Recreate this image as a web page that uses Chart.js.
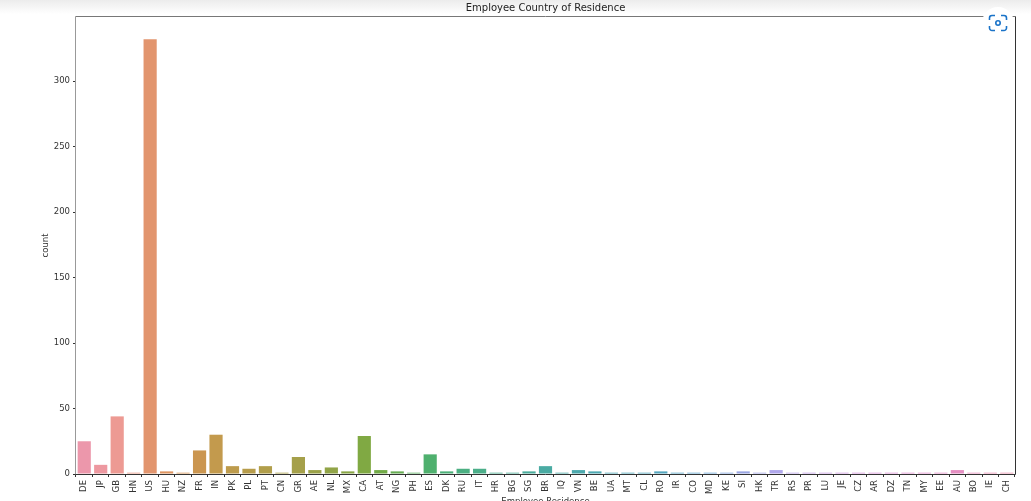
<!DOCTYPE html>
<html>
<head>
<meta charset="utf-8">
<title>Employee Country of Residence</title>
<script src="https://cdn.jsdelivr.net/npm/chart.js@4"></script>
<style>
    html, body { margin: 0; padding: 0; width: 1031px; height: 501px; overflow: hidden; background: #fff; }
    #shade { position: absolute; left: 0; top: 0; width: 1031px; height: 14px; background: linear-gradient(#ececec, #ffffff); }
    #chartBox { position: absolute; left: 0; top: 0; width: 1031px; height: 507px; }
    #residenceChart { filter: blur(0.35px); }
    #lens { position: absolute; left: 982px; top: 7px; width: 32px; height: 32px; border-radius: 50%; background: #fff; }
</style>
</head>
<body>
<div id="shade"></div>
<div id="chartBox"><canvas id="residenceChart" width="1031" height="507"></canvas></div>
<svg id="lens" viewBox="0 0 32 32" fill="none" stroke="#1a73c8" stroke-width="1.6">
    <path d="M13 8.5h-3a2.5 2.5 0 0 0-2.500 2.500v2M19 8.500h3a2.500 2.500 0 0 1 2.500 2.500v2M13 23.500h-3a2.500 2.500 0 0 1-2.500-2.500v-2M19 23.500h3a2.500 2.500 0 0 0 2.500-2.500v-2"/>
    <circle cx="16" cy="16" r="2.200"/>
</svg>
<script>
// ----------------------
//  DATA
// ----------------------
const countries = ['DE', 'JP', 'GB', 'HN', 'US', 'HU', 'NZ', 'FR', 'IN', 'PK', 'PL', 'PT', 'CN', 'GR', 'AE', 'NL', 'MX', 'CA', 'AT',
    'NG', 'PH', 'ES', 'DK', 'RU', 'IT', 'HR', 'BG', 'SG', 'BR', 'IQ', 'VN', 'BE', 'UA', 'MT', 'CL', 'RO', 'IR', 'CO',
    'MD', 'KE', 'SI', 'HK', 'TR', 'RS', 'PR', 'LU', 'JE', 'CZ', 'AR', 'DZ', 'TN', 'MY', 'EE', 'AU', 'BO', 'IE', 'CH'];
const counts = [25, 7, 44, 1, 332, 2, 1, 18, 30, 6, 4, 6, 1, 13, 3, 5, 2, 29, 3,
    2, 1, 15, 2, 4, 4, 1, 1, 2, 6, 1, 3, 2, 1, 1, 1, 2, 1, 1,
    1, 1, 2, 1, 3, 1, 1, 1, 1, 1, 1, 1, 1, 1, 1, 3, 1, 1, 1];
const barColors = ['#EC97AB', '#ED98A0', '#ED9A93', '#E89884', '#E2956E', '#DF9560', '#D69658', '#CB9650', '#C39A4D', '#BD9B4C',
    '#B79C4B', '#B19E4B', '#ABA04A', '#A5A04A', '#9BA248', '#91A447', '#89A645', '#80A943', '#72AB47', '#67AD53',
    '#5BAF60', '#4FB06E', '#4CB078', '#4BAF82', '#4BAE89', '#4BAE90', '#4BAD96', '#4AAC9C', '#4AABA3', '#4BAAA8',
    '#4CA9AD', '#4EA9B2', '#4FA8B6', '#51A8BA', '#53A7BC', '#55A6BE', '#5AA6C6', '#62A6CF', '#6DA6D7', '#80A5DE',
    '#99A5E2', '#A5A6E6', '#B0A7EB', '#BBA5EA', '#C4A2E8', '#CB9FE5', '#D19CE2', '#D699DE', '#DB97DA', '#DE95D6',
    '#E193D2', '#E391CE', '#E490C9', '#E58FC2', '#E88FBC', '#EA93B6', '#EB95B0'];
const yMax = 349;
const yTicks = [0, 50, 100, 150, 200, 250, 300];

// ----------------------
//  CHART
// ----------------------
Chart.defaults.font.family = "'DejaVu Sans'";
Chart.defaults.color = '#333333';

// the frame round the plot, top and left are greyer in the reference
const framePlugin = {
    id: 'frame',
    afterDraw(chart) {
        const { ctx, chartArea: a } = chart;
        const side = (color, x1, y1, x2, y2) => {
            ctx.strokeStyle = color;
            ctx.beginPath();
            ctx.moveTo(x1, y1);
            ctx.lineTo(x2, y2);
            ctx.stroke();
        };
        ctx.save();
        ctx.lineWidth = 1;
        side('#777777', a.left - 0.5, a.top - 0.5, a.right + 0.5, a.top - 0.5);
        side('#999999', a.left - 0.5, a.top - 0.5, a.left - 0.5, a.bottom + 0.5);
        side('#333333', a.right + 0.5, a.top - 0.5, a.right + 0.5, a.bottom + 0.5);
        side('#333333', a.left - 0.5, a.bottom + 0.5, a.right + 0.5, a.bottom + 0.5);
        ctx.restore();
    }
};

new Chart(document.getElementById('residenceChart').getContext('2d'), {
    type: 'bar',
    data: {
        labels: countries,
        datasets: [{
            label: 'count',
            data: counts,
            backgroundColor: barColors,
            barPercentage: 0.8,
            categoryPercentage: 1,
        }]
    },
    options: {
        responsive: false,
        animation: false,
        layout: { padding: { right: 16, top: 0, bottom: 0, left: 0 } },
        plugins: {
            legend: { display: false },
            tooltip: { enabled: false },
            title: {
                display: true,
                text: 'Employee Country of Residence',
                fullSize: false,
                color: '#222222',
                font: { size: 10, weight: 'normal' },
                padding: { top: 2, bottom: 3 },
            },
        },
        scales: {
            x: {
                afterFit(scale) { scale.height = 33; },
                grid: { display: true, drawOnChartArea: false, color: '#333333', tickLength: 3 },
                border: { display: false },
                ticks: {
                    autoSkip: false,
                    maxRotation: 90,
                    minRotation: 90,
                    padding: 3,
                    font: { size: 8.500 },
                },
                title: {
                    display: true,
                    text: 'Employee Residence',
                    font: { size: 8.500 },
                    padding: { top: 0, bottom: 0 },
                },
            },
            y: {
                min: 0,
                max: yMax,
                afterFit(scale) { scale.width = 76; },
                // stepSize snaps to the max here, so the ticks are set by hand
                afterBuildTicks(scale) { scale.ticks = yTicks.map(v => ({ value: v })); },
                grid: { display: true, drawOnChartArea: false, color: '#333333', tickLength: 3 },
                border: { display: false },
                ticks: {
                    autoSkip: false,
                    padding: 3,
                    font: { size: 8.500 },
                },
                title: {
                    display: true,
                    text: 'count',
                    font: { size: 8.500 },
                    padding: { top: 41, bottom: 0 },
                },
            },
        },
    },
    plugins: [framePlugin],
});
</script>
</body>
</html>
